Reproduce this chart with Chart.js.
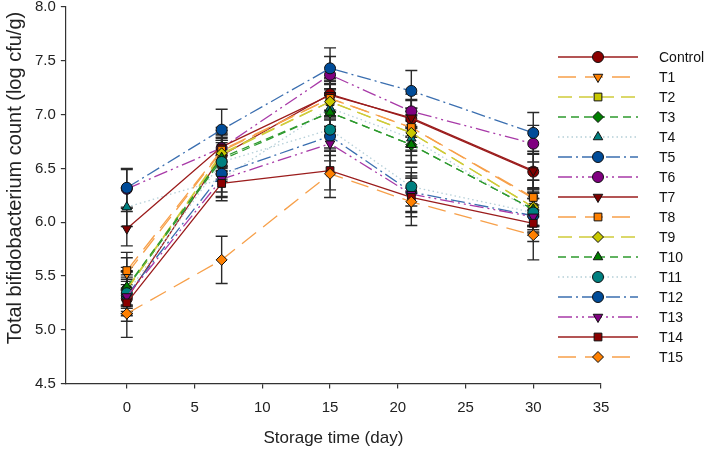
<!DOCTYPE html>
<html>
<head>
<meta charset="utf-8">
<script src="https://cdn.jsdelivr.net/npm/chart.js@4.4.1/dist/chart.umd.min.js"></script>
<style>
  html, body { margin: 0; padding: 0; background: #fff; }
  #wrap { width: 709px; height: 450px; position: relative; }
</style>
</head>
<body>
<div id="wrap"><canvas id="myChart"></canvas></div>
<script>
  // data
  const days = [0, 7, 15, 21, 30];
  const xTicks = [0, 5, 10, 15, 20, 25, 30, 35];
  const seriesNames = ['Control', 'T1', 'T2', 'T3', 'T4', 'T5', 'T6', 'T7', 'T8', 'T9', 'T10', 'T11', 'T12', 'T13', 'T14', 'T15'];

  const control = [5.29, 6.62, 7.19, 6.96, 6.47];
  const t1  = [5.52, 6.66, 7.15, 6.88, 6.22];
  const t2  = [5.37, 6.63, 7.12, 6.83, 6.14];
  const t3  = [5.39, 6.58, 7.02, 6.72, 6.12];
  const t4  = [6.14, 6.40, 7.06, 6.78, 6.10];
  const t5  = [5.32, 6.45, 6.80, 6.28, 6.06];
  const t6  = [6.31, 6.69, 7.37, 7.03, 6.73];
  const t7  = [5.94, 6.70, 7.18, 6.97, 6.48];
  const t8  = [5.55, 6.67, 7.15, 6.88, 6.23];
  const t9  = [5.38, 6.64, 7.12, 6.83, 6.14];
  const t10 = [5.40, 6.60, 7.02, 6.72, 6.12];
  const t11 = [5.34, 6.56, 6.86, 6.33, 6.09];
  const t12 = [6.32, 6.86, 7.43, 7.22, 6.83];
  const t13 = [5.31, 6.40, 6.73, 6.26, 6.05];
  const t14 = [5.25, 6.36, 6.48, 6.23, 5.99];
  const t15 = [5.15, 5.65, 6.45, 6.19, 5.88];

  // standard deviations (error bars)
  const sdControl = [0.16, 0.17, 0.15, 0.17, 0.16];
  const sdT1  = [0.15, 0.16, 0.16, 0.18, 0.17];
  const sdT2  = [0.17, 0.15, 0.17, 0.16, 0.18];
  const sdT3  = [0.16, 0.18, 0.16, 0.17, 0.15];
  const sdT4  = [0.18, 0.16, 0.17, 0.16, 0.17];
  const sdT5  = [0.17, 0.17, 0.18, 0.18, 0.16];
  const sdT6  = [0.18, 0.16, 0.17, 0.16, 0.17];
  const sdT7  = [0.16, 0.18, 0.16, 0.17, 0.18];
  const sdT8  = [0.17, 0.16, 0.17, 0.18, 0.16];
  const sdT9  = [0.16, 0.17, 0.16, 0.17, 0.17];
  const sdT10 = [0.18, 0.16, 0.18, 0.16, 0.16];
  const sdT11 = [0.17, 0.18, 0.17, 0.18, 0.18];
  const sdT12 = [0.18, 0.19, 0.19, 0.19, 0.19];
  const sdT13 = [0.16, 0.17, 0.16, 0.17, 0.17];
  const sdT14 = [0.17, 0.16, 0.18, 0.18, 0.17];
  const sdT15 = [0.22, 0.22, 0.22, 0.22, 0.23];

  const values = [control, t1, t2, t3, t4, t5, t6, t7, t8, t9, t10, t11, t12, t13, t14, t15];
  const errors = [sdControl, sdT1, sdT2, sdT3, sdT4, sdT5, sdT6, sdT7, sdT8, sdT9, sdT10, sdT11, sdT12, sdT13, sdT14, sdT15];

  const yTitle = 'Total bifidobacterium count (log cfu/g)';

  // styles per series: line colour, marker fill, dash, marker
  const styles = [
    { line: '#9B1C1C', fill: '#8B0000', dash: [], shape: 'circle', rot: 0 },
    { line: '#F7A04A', fill: '#FF8000', dash: [18, 9], shape: 'triangle', rot: 180 },
    { line: '#CFCB3A', fill: '#C8C800', dash: [14, 7], shape: 'rect', rot: 0 },
    { line: '#2E9A2E', fill: '#008000', dash: [8, 5], shape: 'rectRot', rot: 0 },
    { line: '#B5CFD8', fill: '#008080', dash: [1.5, 3], shape: 'triangle', rot: 0 },
    { line: '#3B6FB0', fill: '#004C99', dash: [14, 4, 2, 4], shape: 'circle', rot: 0 },
    { line: '#A83AA8', fill: '#800080', dash: [14, 4, 2, 4, 2, 4], shape: 'circle', rot: 0 },
    { line: '#9B1C1C', fill: '#800000', dash: [], shape: 'triangle', rot: 180 },
    { line: '#F7A04A', fill: '#FF8000', dash: [18, 9], shape: 'rect', rot: 0 },
    { line: '#CFCB3A', fill: '#C8C800', dash: [14, 7], shape: 'rectRot', rot: 0 },
    { line: '#2E9A2E', fill: '#008000', dash: [8, 5], shape: 'triangle', rot: 0 },
    { line: '#B5CFD8', fill: '#008080', dash: [1.5, 3], shape: 'circle', rot: 0 },
    { line: '#3B6FB0', fill: '#004C99', dash: [14, 4, 2, 4], shape: 'circle', rot: 0 },
    { line: '#A83AA8', fill: '#800080', dash: [14, 4, 2, 4, 2, 4], shape: 'triangle', rot: 180 },
    { line: '#9B1C1C', fill: '#8B0000', dash: [], shape: 'rect', rot: 0 },
    { line: '#F7A04A', fill: '#FF8000', dash: [18, 9], shape: 'rectRot', rot: 0 }
  ];

  const datasets = seriesNames.map((name, i) => ({
    label: name,
    data: days.map((d, j) => ({ x: d, y: values[i][j] })),
    sd: errors[i],
    order: seriesNames.length - i, // later series drawn on top
    borderColor: styles[i].line,
    backgroundColor: styles[i].fill,
    borderWidth: 1.3,
    borderDash: styles[i].dash,
    pointStyle: styles[i].shape,
    pointRotation: styles[i].rot,
    pointRadius: 5.5,
    pointBackgroundColor: styles[i].fill,
    pointBorderColor: '#111',
    pointBorderWidth: 1,
    tension: 0,
    fill: false
  }));

  // error bars drawn through the scales
  const errorBars = {
    id: 'errorBars',
    beforeDatasetsDraw(chart) {
      const ctx = chart.ctx;
      const xs = chart.scales.x, ys = chart.scales.y;
      ctx.save();
      ctx.strokeStyle = '#2a2a2a';
      ctx.lineWidth = 1.4;
      chart.data.datasets.forEach(ds => {
        ds.data.forEach((p, j) => {
          const x = xs.getPixelForValue(p.x);
          const top = ys.getPixelForValue(p.y + ds.sd[j]);
          const bot = ys.getPixelForValue(p.y - ds.sd[j]);
          ctx.beginPath();
          ctx.moveTo(x, top); ctx.lineTo(x, bot);
          ctx.moveTo(x - 6, top); ctx.lineTo(x + 6, top);
          ctx.moveTo(x - 6, bot); ctx.lineTo(x + 6, bot);
          ctx.stroke();
        });
      });
      ctx.restore();
    }
  };

  // legend with line sample and marker in the middle, plus the y title
  const sampleLegend = {
    id: 'sampleLegend',
    afterDraw(chart) {
      const ctx = chart.ctx;
      ctx.save();
      chart.data.datasets.forEach((ds, i) => {
        const y = 57 + i * 20;
        ctx.fillStyle = '#fff';
        ctx.fillRect(555, y - 9, 154, 18);
        ctx.strokeStyle = ds.borderColor;
        ctx.lineWidth = 1.3;
        ctx.setLineDash(ds.borderDash);
        ctx.beginPath();
        ctx.moveTo(558, y); ctx.lineTo(638, y);
        ctx.stroke();
        ctx.setLineDash([]);
        ctx.fillStyle = ds.pointBackgroundColor;
        ctx.strokeStyle = '#111';
        ctx.lineWidth = 1;
        Chart.helpers.drawPoint(ctx, { pointStyle: ds.pointStyle, rotation: ds.pointRotation, radius: 5.5, borderWidth: 1 }, 598, y);
        ctx.fillStyle = '#111';
        ctx.font = '14px "Liberation Sans", Arial, sans-serif';
        ctx.textBaseline = 'middle';
        ctx.fillText(ds.label, 659, y + 1);
      });
      // y title sits a bit above the middle of the axis, as in the source
      ctx.translate(15, 178);
      ctx.rotate(-Math.PI / 2);
      ctx.fillStyle = '#222';
      ctx.font = '20px "Liberation Sans", Arial, sans-serif';
      ctx.textAlign = 'center';
      ctx.textBaseline = 'middle';
      ctx.fillText(yTitle, 0, 0);
      ctx.restore();
    }
  };

  const axisFont = { family: '"Liberation Sans", Arial, sans-serif', size: 15 };

  const config = {
    type: 'line',
    data: { datasets },
    options: {
      responsive: true,
      maintainAspectRatio: false,
      animation: false,
      scales: {
        x: {
          type: 'linear',
          min: -4.5,
          max: 35,
          afterBuildTicks(scale) {
            scale.ticks = xTicks.map(v => ({ value: v }));
          },
          grid: { display: true, drawOnChartArea: false, drawTicks: true, tickLength: 5, color: '#333', lineWidth: 1.2 },
          border: { color: '#333', width: 1.2 },
          ticks: { font: axisFont, color: '#222', padding: 10, maxRotation: 0 },
          title: { display: true, text: 'Storage time (day)', font: { family: '"Liberation Sans", Arial, sans-serif', size: 17 }, color: '#222', padding: { top: 2, bottom: 0 } }
        },
        y: {
          min: 4.5,
          max: 8,
          afterFit(scale) {
            scale.paddingTop = 0;
          },
          ticks: { stepSize: 0.5, font: axisFont, color: '#222', padding: 5, callback: v => v.toFixed(1) },
          grid: { display: true, drawOnChartArea: false, drawTicks: true, tickLength: 5, color: '#333', lineWidth: 1.2 },
          border: { color: '#333', width: 1.2 },
          // space reserved here; text drawn by the plugin
          title: { display: true, text: yTitle, font: { family: '"Liberation Sans", Arial, sans-serif', size: 20 }, color: 'rgba(0,0,0,0)', padding: { top: 0, bottom: 4 } }
        }
      },
      plugins: {
        legend: { display: false },
        tooltip: { enabled: false }
      },
      layout: {
        padding: { left: 2, right: 108, top: 7, bottom: 1 }
      }
    },
    plugins: [errorBars, sampleLegend]
  };

  // render init block
  const myChart = new Chart(document.getElementById('myChart'), config);
</script>
</body>
</html>
